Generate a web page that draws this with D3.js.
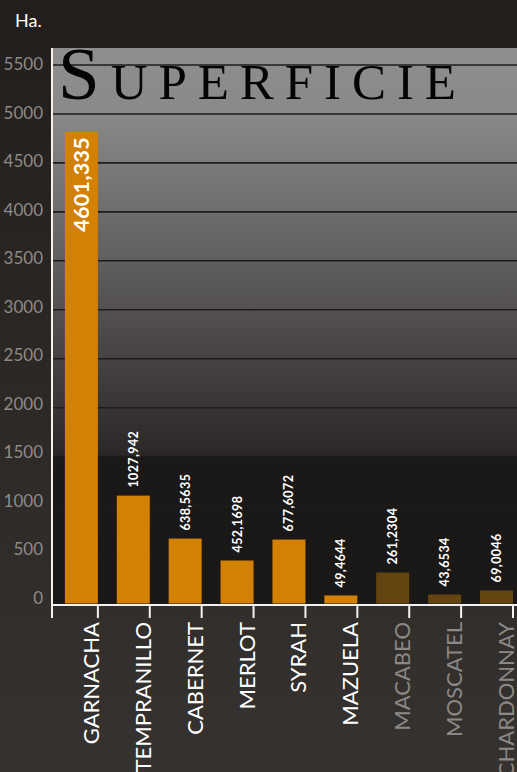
<!DOCTYPE html>
<html>
<head>
<meta charset="utf-8">
<script src="https://cdn.jsdelivr.net/npm/d3@7"></script>
<style>
  body { margin: 0; background: #221f1c; }
  svg { display: block; }
</style>
</head>
<body>
<div id="container"></div>
<script>
// data
const categories = ["GARNACHA", "TEMPRANILLO", "CABERNET", "MERLOT", "SYRAH", "MAZUELA", "MACABEO", "MOSCATEL", "CHARDONNAY"];
const values = [4816, 1102, 663, 439, 653, 82, 316, 92, 133];
const valueLabels = ["4601,335", "1027,942", "638,5635", "452,1698", "677,6072", "49,4644", "261,2304", "43,6534", "69,0046"];
const highlighted = [true, true, true, true, true, true, false, false, false];
const yTicks = [0, 500, 1000, 1500, 2000, 2500, 3000, 3500, 4000, 4500, 5000, 5500];

const w = 517;
const h = 772;
const plotLeft = 52;
const plotTop = 48;
const plotBottom = 604;
const barW = 33;

const svg = d3.select("#container").append("svg").attr("width", w).attr("height", h);
const defs = svg.append("defs");

// page background
const bg = defs.append("linearGradient").attr("id", "bg")
  .attr("x1", 0).attr("y1", 0).attr("x2", 0).attr("y2", 1);
bg.append("stop").attr("offset", 0).attr("stop-color", "#211e1b");
bg.append("stop").attr("offset", 1).attr("stop-color", "#36322f");
svg.append("rect").attr("width", w).attr("height", h).attr("fill", "url(#bg)");

// plot background
const pg = defs.append("linearGradient").attr("id", "plotbg")
  .attr("gradientUnits", "userSpaceOnUse")
  .attr("x1", 0).attr("y1", plotTop).attr("x2", 0).attr("y2", plotBottom);
pg.append("stop").attr("offset", 0).attr("stop-color", "#8f8e8d");
pg.append("stop").attr("offset", 0.12).attr("stop-color", "#8a8988");
pg.append("stop").attr("offset", 0.733).attr("stop-color", "#2a2726");
pg.append("stop").attr("offset", 0.735).attr("stop-color", "#1b1918");
pg.append("stop").attr("offset", 1).attr("stop-color", "#1a1817");
svg.append("rect")
  .attr("x", plotLeft).attr("y", plotTop)
  .attr("width", w - plotLeft).attr("height", plotBottom - plotTop)
  .attr("fill", "url(#plotbg)");

//Scales
const xScale = d3.scaleBand().domain(categories).range([46, 513]);
const yScale = d3.scaleLinear().domain([0, 5500]).range([603.5, 65]);

//Grid lines
svg.append("g")
  .selectAll("line")
  .data(yTicks.slice(1))
  .enter()
  .append("line")
  .attr("x1", plotLeft).attr("x2", w)
  .attr("y1", (d) => yScale(d)).attr("y2", (d) => yScale(d))
  .attr("stroke", "#1d1c1b")
  .attr("stroke-width", 1.6);

//Title
const title = svg.append("text")
  .attr("x", 58).attr("y", 99)
  .attr("font-family", "'Liberation Serif', 'DejaVu Serif', serif")
  .attr("fill", "#050505")
  .attr("textLength", 398)
  .attr("lengthAdjust", "spacing");
title.append("tspan").attr("font-size", 75).text("S");
title.append("tspan").attr("font-size", 51).text("UPERFICIE");

//Bars
svg.append("g")
  .selectAll("rect")
  .data(categories)
  .enter()
  .append("rect")
  .attr("x", (d) => xScale(d) + xScale.bandwidth() - barW)
  .attr("width", barW)
  .attr("y", (d, i) => yScale(values[i]))
  .attr("height", (d, i) => yScale(0) - yScale(values[i]))
  .attr("fill", (d, i) => (highlighted[i] ? "#d28104" : "#644410"));

//Value labels
svg.append("g")
  .selectAll("text")
  .data(categories)
  .enter()
  .append("text")
  .attr("transform", (d, i) => {
    const cx = xScale(d) + xScale.bandwidth() - barW / 2;
    const y = i === 0 ? yScale(values[i]) + 5 : yScale(values[i]) - 8;
    return "translate(" + cx + "," + y + ") rotate(-90)";
  })
  .attr("text-anchor", (d, i) => (i === 0 ? "end" : "start"))
  .attr("dy", "0.36em")
  .attr("font-family", "Lato, 'Noto Sans', sans-serif")
  .attr("font-weight", "bold")
  .attr("font-size", (d, i) => (i === 0 ? 21.5 : 12.5))
  .attr("letter-spacing", (d, i) => (i === 0 ? 0.3 : 0.4))
  .attr("fill", "#ffffff")
  .text((d, i) => valueLabels[i]);

//Y axis labels
svg.append("g")
  .selectAll("text")
  .data(yTicks)
  .enter()
  .append("text")
  .attr("x", 43)
  .attr("y", (d) => yScale(d) - 6 + d / 1100)
  .attr("dy", "0.36em")
  .attr("text-anchor", "end")
  .attr("font-family", "Lato, 'Noto Sans', sans-serif")
  .attr("font-size", 17)
  .attr("fill", "#8e8b88")
  .text((d) => d);

//Axis lines
svg.append("line")
  .attr("x1", plotLeft).attr("x2", plotLeft)
  .attr("y1", plotTop).attr("y2", 618)
  .attr("stroke", "#f2f2f2").attr("stroke-width", 2);
svg.append("line")
  .attr("x1", plotLeft).attr("x2", w)
  .attr("y1", 605).attr("y2", 605)
  .attr("stroke", "#f2f2f2").attr("stroke-width", 2);

//Category ticks
svg.append("g")
  .selectAll("line")
  .data(categories)
  .enter()
  .append("line")
  .attr("x1", (d) => xScale(d) + xScale.bandwidth())
  .attr("x2", (d) => xScale(d) + xScale.bandwidth())
  .attr("y1", 605).attr("y2", 618)
  .attr("stroke", "#f2f2f2").attr("stroke-width", 2);

//Category labels
svg.append("g")
  .selectAll("text")
  .data(categories)
  .enter()
  .append("text")
  .attr("transform", (d) => "translate(" + (xScale(d) + xScale.bandwidth() + 1) + ",622) rotate(-90)")
  .attr("text-anchor", "end")
  .attr("font-family", "Lato, 'Noto Sans', sans-serif")
  .attr("font-size", 22)
  .attr("fill", (d, i) => (highlighted[i] ? "#ffffff" : "#8b8886"))
  .text((d) => d);

//Unit
svg.append("text")
  .attr("x", 15).attr("y", 27)
  .attr("font-family", "Lato, 'Noto Sans', sans-serif")
  .attr("font-size", 18)
  .attr("fill", "#ffffff")
  .text("Ha.");
</script>
</body>
</html>
